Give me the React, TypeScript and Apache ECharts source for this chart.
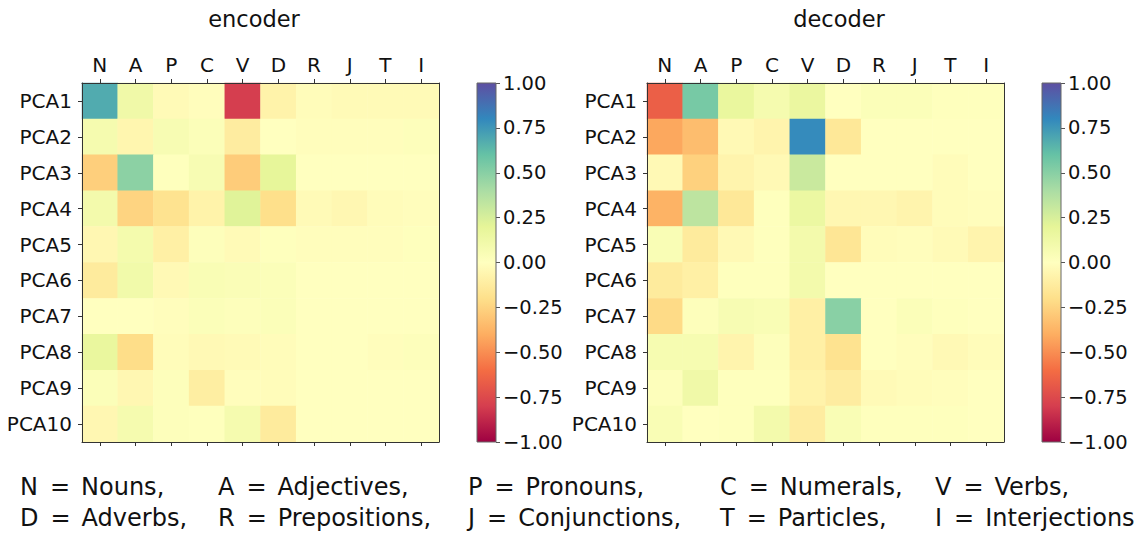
import React, { useEffect, useRef } from "react";
import * as echarts from "echarts";

// Part-of-speech tags (columns) and principal components (rows)
const posTags = ["N", "A", "P", "C", "V", "D", "R", "J", "T", "I"];
const components = ["PCA1", "PCA2", "PCA3", "PCA4", "PCA5", "PCA6", "PCA7", "PCA8", "PCA9", "PCA10"];

// Correlation of each principal component with each tag, encoder side
const encoderValues: number[][] = [
  [0.68, 0.12, -0.03, -0.01, -0.8, -0.08, -0.02, -0.03, -0.03, -0.03],
  [0.08, -0.06, 0.06, 0.03, -0.12, 0.0, -0.01, -0.01, -0.01, 0.02],
  [-0.27, 0.49, 0.01, 0.06, -0.28, 0.19, 0.0, 0.0, 0.0, 0.0],
  [0.1, -0.25, -0.18, -0.08, 0.22, -0.2, -0.03, -0.05, -0.02, -0.01],
  [-0.05, 0.09, -0.1, 0.02, -0.03, 0.01, -0.01, -0.01, -0.01, 0.01],
  [-0.13, 0.11, -0.04, 0.05, 0.04, 0.03, 0.0, 0.0, 0.0, 0.0],
  [0.0, 0.0, -0.01, 0.03, 0.02, 0.03, 0.0, 0.0, 0.0, 0.0],
  [0.17, -0.21, -0.02, -0.04, -0.03, -0.02, 0.0, 0.0, -0.01, 0.02],
  [0.03, -0.05, 0.02, -0.11, -0.01, -0.02, 0.0, 0.0, 0.0, 0.0],
  [-0.05, 0.08, 0.02, 0.01, 0.08, -0.13, 0.0, 0.0, 0.0, 0.0],
];

// Correlation of each principal component with each tag, decoder side
const decoderValues: number[][] = [
  [-0.66, 0.55, 0.17, 0.08, 0.16, 0.0, 0.03, 0.03, 0.01, 0.01],
  [-0.42, -0.34, -0.04, -0.07, 0.79, -0.15, 0.0, 0.0, 0.0, 0.0],
  [-0.04, -0.26, -0.07, -0.04, 0.3, 0.0, 0.0, 0.0, -0.02, 0.0],
  [-0.38, 0.34, -0.15, 0.01, 0.15, -0.05, -0.05, -0.07, -0.02, -0.01],
  [0.05, -0.13, -0.04, 0.01, 0.1, -0.16, -0.02, -0.01, -0.03, -0.07],
  [-0.13, -0.1, 0.01, 0.01, 0.1, 0.0, 0.0, 0.0, 0.0, 0.0],
  [-0.22, 0.02, 0.06, 0.05, -0.1, 0.5, 0.0, 0.03, 0.01, 0.0],
  [0.07, 0.07, -0.07, 0.02, -0.1, -0.18, 0.0, -0.01, -0.04, -0.02],
  [0.02, 0.12, 0.01, 0.01, -0.08, -0.12, -0.03, -0.02, -0.01, 0.0],
  [0.05, 0.0, 0.01, 0.1, -0.12, 0.05, 0.01, 0.01, 0.01, 0.0],
];

// Colour bar scale
const scaleMin = -1;
const scaleMax = 1;
const scaleStep = 0.25;

// Spectral colour map, low to high
const spectral = [
  "#9e0142", "#d53e4f", "#f46d43", "#fdae61", "#fee08b", "#ffffbf",
  "#e6f598", "#abdda4", "#66c2a5", "#3288bd", "#5e4fa2",
];

// Tag abbreviations listed under the charts, in two rows
const legendRows: [string, string][][] = [
  [["N", "Nouns,"], ["A", "Adjectives,"], ["P", "Pronouns,"], ["C", "Numerals,"], ["V", "Verbs,"]],
  [["D", "Adverbs,"], ["R", "Prepositions,"], ["J", "Conjunctions,"], ["T", "Particles,"], ["I", "Interjections"]],
];

const FONT = '"DejaVu Sans", "Liberation Sans", sans-serif';

function toCells(rows: number[][]) {
  const out: [number, number, number][] = [];
  rows.forEach((row, y) => row.forEach((v, x) => out.push([x, y, v])));
  return out;
}

const fmtTick = (v: number) => (v < 0 ? "\u2212" : "") + Math.abs(v).toFixed(2);

export default function App() {
  const ref = useRef<HTMLDivElement>(null);

  useEffect(() => {
    document.body.style.margin = "0";
    if (!ref.current) return;
    const chart = echarts.init(ref.current, undefined, { renderer: "svg" });

    const panels = [
      { left: 82, barLeft: 477, title: "encoder", titleX: 254 },
      { left: 647, barLeft: 1042, title: "decoder", titleX: 839 },
    ];
    const top = 83;
    const size = 357;
    const height = 359;

    const grids: any[] = [];
    const xAxes: any[] = [];
    const yAxes: any[] = [];
    panels.forEach((p) => {
      grids.push({ left: p.left, top, width: size, height });
      grids.push({ left: p.barLeft, top, width: 19, height });
    });

    const spine = { show: true, lineStyle: { color: "#333", width: 1 } };
    const tick = { show: true, length: 4, alignWithLabel: true, lineStyle: { color: "#333" } };
    const label = { color: "#111", fontFamily: FONT, fontSize: 20 };

    panels.forEach((_, i) => {
      const g = i * 2;
      // heatmap axes
      xAxes.push({
        type: "category", gridIndex: g, data: posTags, position: "top", z: 10,
        axisLine: spine, axisTick: tick, axisLabel: { ...label, margin: 8 }, splitLine: { show: false },
      });
      xAxes.push({
        type: "category", gridIndex: g, data: posTags, position: "bottom", z: 10,
        axisLine: spine, axisTick: tick, axisLabel: { show: false }, splitLine: { show: false },
      });
      yAxes.push({
        type: "category", gridIndex: g, data: components, inverse: true, position: "left", z: 10,
        axisLine: spine, axisTick: tick, axisLabel: { ...label, margin: 10 }, splitLine: { show: false },
      });
      yAxes.push({
        type: "category", gridIndex: g, data: components, inverse: true, position: "right", z: 10,
        axisLine: spine, axisTick: { show: false }, axisLabel: { show: false }, splitLine: { show: false },
      });
      // colour bar axes
      xAxes.push({ type: "category", gridIndex: g + 1, data: [""], show: false });
      yAxes.push({
        type: "value", gridIndex: g + 1, min: scaleMin, max: scaleMax, interval: scaleStep, position: "right",
        axisLine: { show: false },
        axisTick: { show: true, length: 4, lineStyle: { color: "#555" } },
        axisLabel: { ...label, fontSize: 19.5, margin: 7, formatter: fmtTick },
        splitLine: { show: false },
      });
    });

    const gradient = new echarts.graphic.LinearGradient(
      0, 1, 0, 0,
      spectral.map((c, i) => ({ offset: i / (spectral.length - 1), color: c }))
    );

    const series: any[] = [];
    [encoderValues, decoderValues].forEach((vals, i) => {
      series.push({
        type: "heatmap",
        xAxisIndex: i * 3,
        yAxisIndex: i * 3,
        data: toCells(vals),
        itemStyle: { borderWidth: 0 },
        emphasis: { disabled: true },
        z: 2,
      });
    });
    [0, 1].forEach((i) => {
      series.push({
        type: "custom",
        xAxisIndex: i * 3 + 2,
        yAxisIndex: i * 3 + 2,
        data: [[0, scaleMin, scaleMax]],
        silent: true,
        renderItem: (params: any, api: any) => {
          const lo = api.coord([0, api.value(1)]);
          const hi = api.coord([0, api.value(2)]);
          const w = api.size([1, 0])[0];
          return {
            type: "rect",
            shape: { x: lo[0] - w / 2, y: hi[1], width: w, height: lo[1] - hi[1] },
            style: { fill: gradient, stroke: "#666", lineWidth: 1 },
          };
        },
      });
    });

    const graphics: any[] = panels.map((p) => ({
      type: "text",
      x: p.titleX,
      y: 7,
      style: { text: p.title, font: `22.5px ${FONT}`, fill: "#111", align: "center", verticalAlign: "top" },
    }));

    const colX = [20, 218, 468, 720, 935];
    const rowY = [487, 518];
    legendRows.forEach((row, r) => {
      row.forEach(([k, w], c) => {
        graphics.push({
          type: "text",
          x: colX[c],
          y: rowY[r],
          style: {
            text: `{k|${k}}{e|=}{w|${w}}`,
            fill: "#111",
            verticalAlign: "middle",
            rich: {
              k: { font: `24px ${FONT}`, fill: "#111" },
              e: { font: `24px ${FONT}`, fill: "#111", padding: [0, 11, 0, 12] },
              w: { font: `24px ${FONT}`, fill: "#111" },
            },
          },
        });
      });
    });

    chart.setOption({
      animation: false,
      backgroundColor: "#fff",
      grid: grids,
      xAxis: xAxes,
      yAxis: yAxes,
      visualMap: {
        type: "continuous",
        show: false,
        min: scaleMin,
        max: scaleMax,
        seriesIndex: [0, 1],
        dimension: 2,
        inRange: { color: spectral },
      },
      series,
      graphic: graphics,
    });

    return () => chart.dispose();
  }, []);

  return <div ref={ref} style={{ width: 1134, height: 535 }} />;
}
